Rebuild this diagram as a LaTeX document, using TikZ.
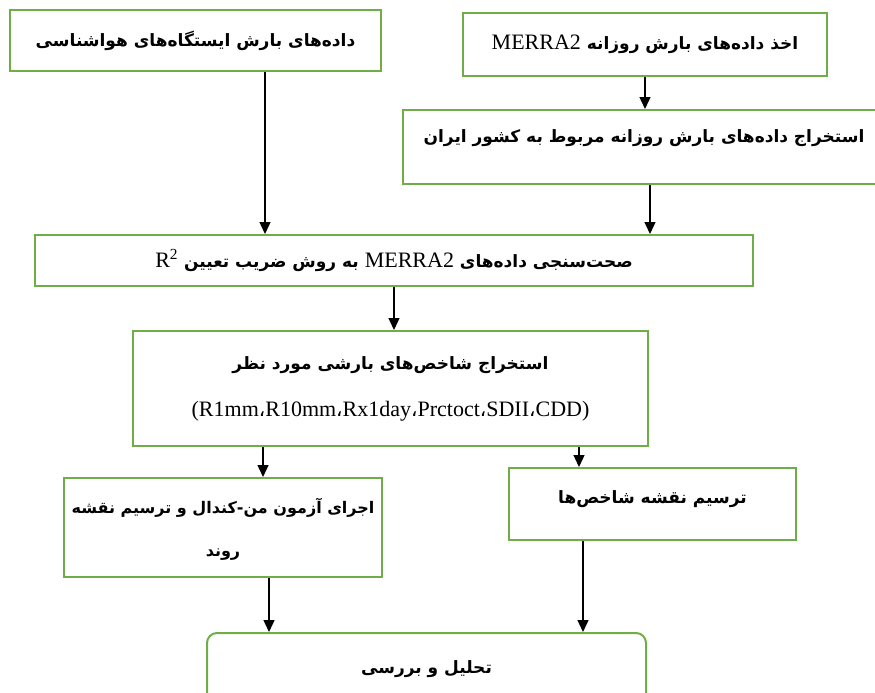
\documentclass[tikz,border=0pt]{standalone}
\usepackage{fontspec}
\setmainfont{Liberation Serif}
\newfontfamily\farsifont[Script=Arabic]{DejaVu Sans}
\TeXXeTstate=1
\usetikzlibrary{arrows.meta}
\definecolor{boxgreen}{HTML}{70AD47}
\newcommand{\fasize}{17}
\newcommand{\fatxt}[1]{{\farsifont\bfseries\fontsize{\fasize}{20}\selectfont\beginR #1\endR}}
\newcommand{\latn}[1]{\beginL{\rmfamily\mdseries\fontsize{22}{24}\selectfont #1}\endL}
\newcommand{\acomma}{{\farsifont\fontsize{20}{24}\selectfont ،}}

\begin{document}
\begin{tikzpicture}[x=1pt, y=-1pt,
  stepbox/.style={draw=boxgreen, line width=2pt, inner sep=0pt, align=center,
    font=\fontsize{22}{45}\selectfont},
  arr/.style={-{Triangle[width=11pt,length=12pt]}, line width=1.4pt}]
\useasboundingbox (0,0) rectangle (875,693);

\node[stepbox, minimum width=371pt, minimum height=61pt] (stations) at (195.5,40.5)
  {\fatxt{داده^^^^200cهای بارش ایستگاه^^^^200cهای هواشناسی}};
\node[stepbox, minimum width=364pt, minimum height=63pt] (merra) at (645,44.5)
  {\fatxt{اخذ داده^^^^200cهای بارش روزانه \latn{MERRA2}}};
\node[stepbox, minimum width=482pt, minimum height=74pt, text depth=22pt] (iran) at (644,147)
  {\fatxt{استخراج داده^^^^200cهای بارش روزانه مربوط به کشور ایران}};
\node[stepbox, minimum width=718pt, minimum height=51pt] (valid) at (394,260.5)
  {\fatxt{صحت^^^^200cسنجی داده^^^^200cهای \latn{MERRA2} به روش ضریب تعیین \latn{R\textsuperscript{2}}}};
\node[stepbox, minimum width=515pt, minimum height=115pt,
  font=\fontsize{22}{47}\selectfont] (indices) at (390.5,388.5)
  {\fatxt{استخراج شاخص^^^^200cهای بارشی مورد نظر}\\
   (R1mm\acomma R10mm\acomma Rx1day\acomma Prctoct\acomma SDII\acomma CDD)};
\node[stepbox, minimum width=318pt, minimum height=99pt, text depth=0pt,
  font=\fontsize{22}{43}\selectfont\renewcommand{\fasize}{16}] (trend) at (223,527.5)
  {\fatxt{اجرای آزمون من-کندال و ترسیم نقشه}\\ \fatxt{روند}};
\node[stepbox, minimum width=287pt, minimum height=72pt, text depth=14pt] (maps) at (652.5,504)
  {\fatxt{ترسیم نقشه شاخص^^^^200cها}};
\node[stepbox, rounded corners=10pt, minimum width=439pt, minimum height=72pt] (analysis) at (426.5,669)
  {\fatxt{تحلیل و بررسی}};

\draw[arr] (stations.south -| 265,0) -- (valid.north -| 265,0);
\draw[arr] (merra.south -| 645,0) -- (iran.north -| 645,0);
\draw[arr] (iran.south -| 650,0) -- (valid.north -| 650,0);
\draw[arr] (valid.south -| 394,0) -- (indices.north -| 394,0);
\draw[arr] (indices.south -| 263,0) -- (trend.north -| 263,0);
\draw[arr] (indices.south -| 579,0) -- (maps.north -| 579,0);
\draw[arr] (trend.south -| 269,0) -- (analysis.north -| 269,0);
\draw[arr] (maps.south -| 583,0) -- (analysis.north -| 583,0);
\end{tikzpicture}
\end{document}
